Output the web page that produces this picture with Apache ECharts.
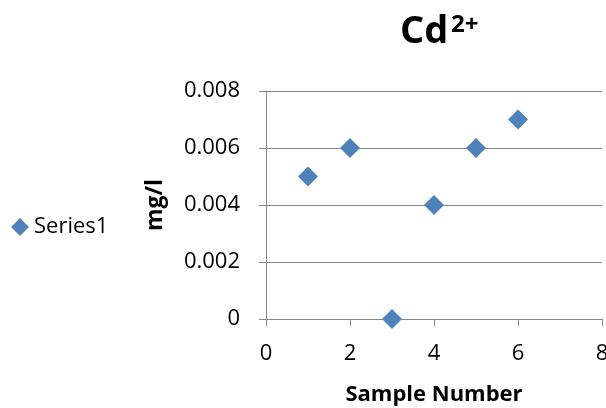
<!DOCTYPE html>
<html><head><meta charset="utf-8">
<script src="https://cdn.jsdelivr.net/npm/echarts@6/dist/echarts.min.js"></script>
<style>html,body{margin:0;padding:0;background:#fff}#c{width:606px;height:408px}</style>
</head><body><div id="c"></div>
<script>
const sampleNumbers = [1, 2, 3, 4, 5, 6];
const cdValues = [0.005, 0.006, 0, 0.004, 0.006, 0.007];
const seriesName = 'Series1';
const xTicks = [0, 2, 4, 6, 8];
const yTicks = [0, 0.002, 0.004, 0.006, 0.008];

const FONT = '"Open Sans", "Liberation Sans", sans-serif';
const chart = echarts.init(document.getElementById('c'));
chart.setOption({
  animation: false,
  title: [{
    text: 'Cd', left: 395, top: 8,
    textStyle: {fontFamily: FONT, fontWeight: 'bold', fontSize: 38, color: '#000'}
  }, {
    text: '2+', left: 446, top: 8,
    textStyle: {fontFamily: FONT, fontWeight: 'bold', fontSize: 24, color: '#000'}
  }],
  legend: {
    left: 6, top: 211, itemWidth: 18, itemHeight: 18, itemGap: 4,
    data: [{name: seriesName, icon: 'diamond'}],
    textStyle: {fontFamily: FONT, fontSize: 22, color: '#000', padding: [0, 0, 0, 0]}
  },
  grid: {left: 266, right: 4, top: 91, bottom: 89, outerBoundsMode: 'none', containLabel: false},
  xAxis: {
    type: 'value', min: xTicks[0], max: xTicks[xTicks.length - 1], interval: 2,
    name: 'Sample Number', nameLocation: 'middle', nameGap: 65,
    nameTextStyle: {fontFamily: FONT, fontWeight: 'bold', fontSize: 22, color: '#000'},
    axisLine: {show: true, lineStyle: {color: '#868686', width: 1}},
    axisTick: {show: true, inside: false, length: 7, lineStyle: {color: '#868686'}},
    axisLabel: {fontFamily: FONT, fontSize: 22, color: '#000', margin: 24, showMaxLabel: true, hideOverlap: false},
    splitLine: {show: false}
  },
  yAxis: {
    type: 'value', min: yTicks[0], max: yTicks[yTicks.length - 1], interval: 0.002,
    name: 'mg/l', nameLocation: 'middle', nameGap: 99, nameRotate: 90,
    nameTextStyle: {fontFamily: FONT, fontWeight: 'bold', fontSize: 23, color: '#000'},
    axisLine: {show: true, lineStyle: {color: '#868686', width: 1}},
    axisTick: {show: true, inside: false, length: 7, lineStyle: {color: '#868686'}},
    axisLabel: {fontFamily: FONT, fontSize: 22, color: '#000', margin: 26,
      formatter: v => v === 0 ? '0' : v.toFixed(3)},
    splitLine: {show: true, lineStyle: {color: '#868686', width: 1}}
  },
  series: [{
    name: seriesName, type: 'scatter', symbol: 'diamond', symbolSize: 20,
    itemStyle: {color: '#4F81BD', opacity: 1},
    data: sampleNumbers.map((x, i) => [x, cdValues[i]])
  }]
});
</script></body></html>
